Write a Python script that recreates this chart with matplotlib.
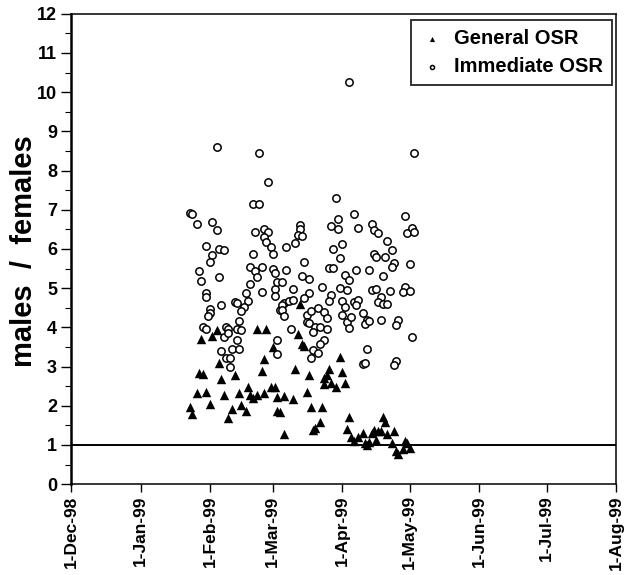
import matplotlib
matplotlib.use('Agg')
import matplotlib.pyplot as plt
import matplotlib.dates as mdates
from matplotlib.ticker import MultipleLocator
import pandas as pd

plt.rcParams['font.family'] = ['Liberation Sans', 'DejaVu Sans']
plt.rcParams['font.weight'] = 'bold'

# Immediate OSR (open circles)
imm_dates = [
    '02-04', '02-23', '02-27', '02-20', '02-23', '01-23', '01-24', '01-26', '02-02', '02-04',
    '02-21', '02-25', '02-27', '02-25', '02-26', '02-28', '03-01', '01-30', '02-05', '02-07',
    '02-02', '02-01', '02-20', '02-19', '02-21', '02-24', '02-22', '03-01', '03-02', '01-27',
    '01-28', '02-05', '02-19', '02-17', '02-24', '01-30', '01-30', '03-02', '03-03', '02-01',
    '02-01', '01-31', '02-06', '02-12', '02-13', '02-18', '02-16', '02-15', '03-02', '03-04',
    '01-29', '01-30', '02-08', '02-09', '02-07', '02-09', '02-13', '02-15', '02-14', '02-13',
    '02-06', '02-08', '02-11', '02-14', '02-10', '02-10', '03-03', '03-03', '05-03', '03-29',
    '04-06', '03-30', '03-27', '03-30', '04-08', '04-14', '04-15', '04-17', '04-29', '04-30',
    '05-02', '05-03', '03-13', '03-13', '03-12', '03-14', '03-11', '03-07', '03-28', '04-01',
    '03-31', '04-21', '04-23', '04-15', '04-16', '04-20', '04-24', '04-23', '05-01', '03-15',
    '03-07', '03-26', '03-28', '04-02', '04-04', '04-07', '04-13', '04-19', '03-14', '03-17',
    '03-05', '03-23', '03-10', '03-17', '03-27', '03-31', '04-03', '04-14', '04-16', '04-22',
    '04-29', '04-28', '05-01', '04-18', '03-15', '03-26', '04-01', '04-02', '04-06', '04-08',
    '04-07', '04-17', '04-19', '04-21', '03-06', '03-08', '03-10', '03-05', '03-05', '03-06',
    '03-16', '03-18', '03-21', '03-24', '03-16', '03-17', '03-20', '03-22', '03-25', '03-19',
    '03-25', '03-24', '03-22', '03-19', '03-21', '03-18', '03-09', '04-01', '04-03', '04-05',
    '04-04', '04-10', '04-12', '04-11', '04-13', '04-18', '04-26', '04-25', '05-02', '04-12',
    '04-10', '04-11', '04-25', '04-24', '04-04',
]
imm_vals = [
    8.61, 8.46, 7.72, 7.14, 7.14, 6.91, 6.88, 6.63, 6.70, 6.48,
    6.44, 6.50, 6.43, 6.31, 6.17, 6.06, 5.87, 6.08, 6.00, 5.97,
    5.85, 5.68, 5.86, 5.53, 5.44, 5.55, 5.29, 5.49, 5.39, 5.45,
    5.19, 5.28, 5.11, 4.88, 4.91, 4.88, 4.78, 4.97, 5.16, 4.46,
    4.36, 4.29, 4.57, 4.65, 4.61, 4.67, 4.53, 4.42, 4.80, 4.44,
    4.02, 3.95, 4.02, 3.96, 3.76, 3.85, 3.97, 3.93, 4.17, 3.69,
    3.39, 3.23, 3.44, 3.44, 3.23, 2.99, 3.68, 3.32, 8.46, 7.31,
    6.89, 6.77, 6.59, 6.50, 6.53, 6.63, 6.48, 6.40, 6.83, 6.42,
    6.53, 6.43, 6.61, 6.50, 6.36, 6.34, 6.15, 6.06, 6.00, 6.13,
    5.77, 6.20, 5.98, 5.88, 5.80, 5.80, 5.63, 5.53, 5.62, 5.66,
    5.46, 5.52, 5.51, 5.34, 5.20, 5.47, 5.46, 5.31, 5.32, 5.23,
    5.16, 5.03, 4.97, 4.87, 4.82, 5.01, 4.95, 4.95, 4.99, 4.93,
    5.02, 4.89, 4.93, 4.78, 4.74, 4.68, 4.67, 4.53, 4.65, 4.70,
    4.57, 4.65, 4.60, 4.60, 4.61, 4.68, 4.70, 4.57, 4.44, 4.29,
    4.31, 4.42, 4.49, 4.40, 4.14, 4.12, 4.02, 4.02, 4.23, 3.89,
    3.95, 3.69, 3.57, 3.42, 3.35, 3.21, 3.97, 4.31, 4.14, 4.27,
    3.99, 4.36, 4.20, 4.08, 4.17, 4.20, 4.20, 4.06, 3.76, 3.45,
    3.06, 3.08, 3.15, 3.04, 10.26,
]

# General OSR (filled triangles)
gen_dates = [
    '02-04', '02-02', '01-28', '02-22', '02-26', '03-01', '02-05', '02-25', '02-24', '01-27',
    '01-29', '02-06', '02-12', '01-26', '01-30', '02-07', '02-14', '02-18', '02-19', '02-20',
    '02-22', '02-25', '02-28', '03-02', '03-03', '01-23', '01-24', '02-01', '02-11', '02-15',
    '02-17', '02-09', '03-03', '03-13', '03-12', '03-14', '03-15', '03-31', '03-11', '03-17',
    '03-26', '03-25', '03-24', '03-27', '04-01', '03-24', '03-29', '04-02', '03-06', '03-10',
    '03-16', '03-04', '03-18', '03-23', '03-22', '03-20', '03-19', '03-06', '04-04', '04-03',
    '04-05', '04-06', '04-08', '04-10', '04-11', '04-12', '04-13', '04-14', '04-15', '04-17',
    '04-18', '04-21', '04-24', '04-16', '04-19', '04-20', '04-23', '04-25', '04-26', '04-28',
    '04-29', '04-30', '05-01',
]
gen_vals = [
    3.93, 3.78, 3.70, 3.96, 3.96, 3.51, 3.10, 3.19, 2.89, 2.83,
    2.80, 2.69, 2.78, 2.32, 2.34, 2.28, 2.33, 2.47, 2.27, 2.19,
    2.27, 2.32, 2.48, 2.48, 2.23, 1.96, 1.79, 2.04, 1.93, 2.02,
    1.86, 1.70, 1.87, 4.60, 3.83, 3.57, 3.52, 3.25, 2.95, 2.78,
    2.93, 2.78, 2.70, 2.59, 2.87, 2.55, 2.48, 2.57, 2.25, 2.17,
    2.34, 1.84, 1.96, 1.97, 1.58, 1.42, 1.38, 1.29, 1.72, 1.40,
    1.21, 1.10, 1.21, 1.31, 1.04, 1.00, 1.08, 1.31, 1.38, 1.35,
    1.36, 1.28, 1.36, 1.12, 1.72, 1.59, 1.05, 0.85, 0.77, 0.89,
    1.11, 1.04, 0.91,
]

imm_x = pd.to_datetime(['1999-' + d for d in imm_dates])
gen_x = pd.to_datetime(['1999-' + d for d in gen_dates])

fig = plt.figure(figsize=(6.28, 5.75), dpi=100)
ax = fig.add_axes([0.113, 0.158, 0.868, 0.818])

ax.scatter(gen_x, gen_vals, marker='^', s=46, c='black', linewidths=0,
           label='General OSR', zorder=3)
ax.scatter(imm_x, imm_vals, marker='o', s=28, facecolors='white',
           edgecolors='black', linewidths=1.1, label='Immediate OSR', zorder=3)
ax.axhline(1, color='black', lw=1.4, zorder=2)

ax.set_xlim(pd.Timestamp('1998-12-01'), pd.Timestamp('1999-08-01'))
ax.set_ylim(0, 12)
ax.xaxis.set_major_locator(mdates.MonthLocator())
ax.xaxis.set_major_formatter(mdates.DateFormatter('1-%b-%y'))
ax.yaxis.set_major_locator(MultipleLocator(1))
ax.yaxis.set_minor_locator(MultipleLocator(0.5))

ax.tick_params(axis='x', direction='out', length=6, width=1, labelsize=12.5,
               labelrotation=90, pad=2)
ax.tick_params(axis='y', which='major', direction='out', length=7, width=1,
               labelsize=13, pad=3)
ax.tick_params(axis='y', which='minor', direction='out', length=4, width=0.8)
for lab in ax.get_xticklabels() + ax.get_yticklabels():
    lab.set_fontweight('bold')

for side in ['top', 'right', 'bottom']:
    ax.spines[side].set_linewidth(1.1)
ax.spines['left'].set_linewidth(1.8)

ax.set_ylabel('males  /  females', fontsize=21, fontweight='bold')
ax.yaxis.set_label_coords(-0.061, 0.495)

leg = ax.legend(loc='upper right', bbox_to_anchor=(0.993, 0.987), borderaxespad=0,
                fontsize=14.5, frameon=True, fancybox=False, edgecolor='black',
                markerscale=0.55, handletextpad=0.5, borderpad=0.45,
                labelspacing=0.45, handlelength=1.2)
leg.get_frame().set_linewidth(1.4)
for t in leg.get_texts():
    t.set_fontweight('bold')

fig.savefig('out.png', dpi=100)
